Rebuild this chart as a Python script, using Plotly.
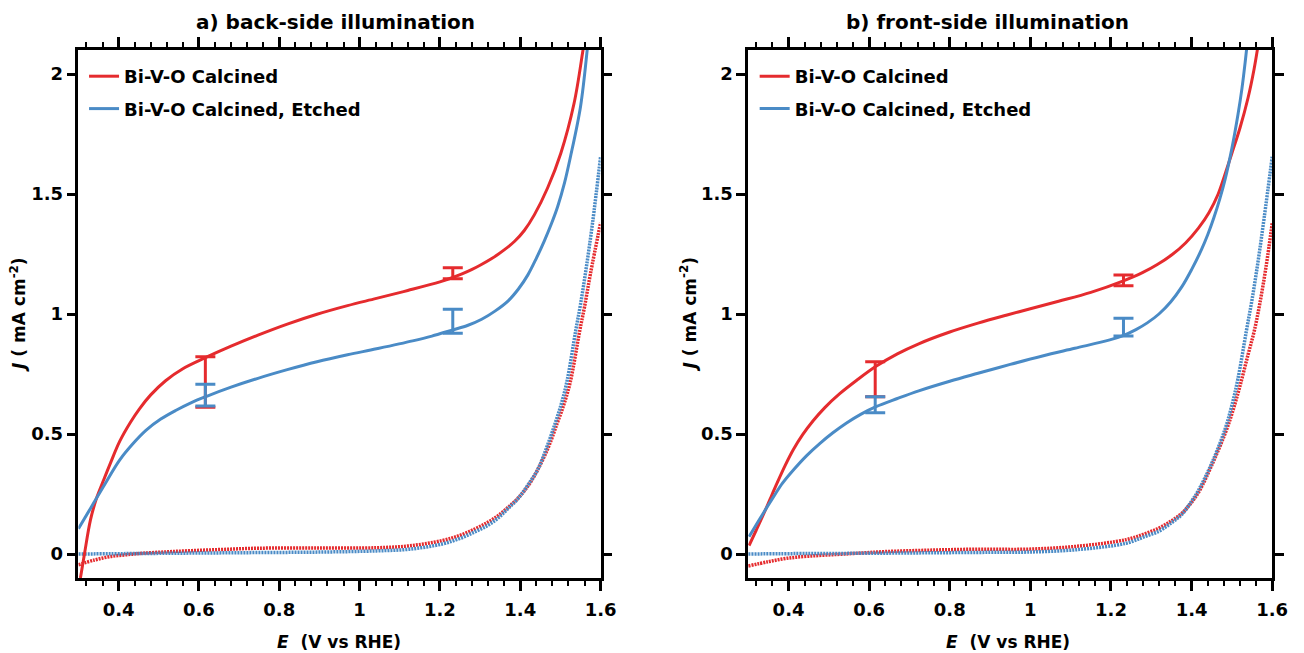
import plotly.graph_objects as go

# ---------------- data ----------------
# Panel a) back-side illumination
a_calc_E = [0.305, 0.315, 0.33, 0.345, 0.362, 0.38, 0.403, 0.43, 0.452, 0.48, 0.517, 0.56, 0.616, 0.68, 0.747,
            0.82, 0.894, 0.97, 1.042, 1.12, 1.2, 1.232, 1.255, 1.28, 1.3, 1.329, 1.36, 1.386, 1.41, 1.435, 1.468,
            1.501, 1.534, 1.556, 1.565]
a_calc_J = [-0.1, 0.0, 0.142, 0.232, 0.305, 0.38, 0.47, 0.55, 0.605, 0.663, 0.722, 0.772, 0.818, 0.866, 0.912,
            0.958, 0.999, 1.035, 1.065, 1.098, 1.134, 1.152, 1.167, 1.186, 1.203, 1.231, 1.267, 1.303, 1.348, 1.413,
            1.525, 1.67, 1.878, 2.098, 2.2]
a_etch_E = [0.3, 0.33, 0.362, 0.403, 0.435, 0.468, 0.505, 0.542, 0.58, 0.616, 0.68, 0.747, 0.82, 0.894, 0.97,
            1.042, 1.132, 1.18, 1.23, 1.27, 1.304, 1.337, 1.37, 1.395, 1.419, 1.44, 1.46, 1.478, 1.493, 1.51, 1.525,
            1.55, 1.566, 1.572]
a_etch_J = [0.105, 0.19, 0.28, 0.392, 0.458, 0.515, 0.562, 0.598, 0.63, 0.655, 0.695, 0.732, 0.768, 0.801, 0.83,
            0.855, 0.888, 0.908, 0.933, 0.953, 0.978, 1.012, 1.055, 1.103, 1.163, 1.232, 1.305, 1.378, 1.447, 1.545,
            1.655, 1.864, 2.09, 2.2]
a_calc_dark_E = [0.3, 0.34, 0.378, 0.42, 0.46, 0.52, 0.583, 0.66, 0.747, 0.894, 1.042, 1.124, 1.206, 1.25, 1.288,
                 1.32, 1.345, 1.37, 1.394, 1.42, 1.443, 1.47, 1.492, 1.51, 1.525, 1.548, 1.56, 1.575, 1.6]
a_calc_dark_J = [-0.045, -0.025, -0.011, -0.003, 0.003, 0.009, 0.014, 0.019, 0.024, 0.025, 0.026, 0.034, 0.056,
                 0.078, 0.105, 0.133, 0.16, 0.195, 0.232, 0.285, 0.35, 0.445, 0.545, 0.63, 0.72, 0.93, 1.03, 1.17,
                 1.38]
a_etch_dark_E = [0.3, 0.45, 0.6, 0.75, 0.9, 1.042, 1.124, 1.206, 1.25, 1.288, 1.32, 1.345, 1.37, 1.394, 1.42,
                 1.443, 1.466, 1.487, 1.503, 1.517, 1.538, 1.55, 1.565, 1.58, 1.6]
a_etch_dark_J = [0.0, 0.002, 0.004, 0.006, 0.008, 0.013, 0.02, 0.042, 0.065, 0.093, 0.12, 0.15, 0.19, 0.23, 0.29,
                 0.35, 0.445, 0.545, 0.63, 0.725, 0.93, 1.04, 1.2, 1.38, 1.655]
a_err_E = [0.616, 1.232]
a_calc_err_J = [0.7165, 1.17]
a_calc_err = [0.1055, 0.023]
a_etch_err_J = [0.662, 0.97]
a_etch_err = [0.045, 0.05]

# Panel b) front-side illumination
b_calc_E = [0.302, 0.32, 0.339, 0.355, 0.372, 0.392, 0.412, 0.435, 0.461, 0.49, 0.527, 0.57, 0.617, 0.67, 0.723,
            0.8, 0.87, 0.94, 1.0, 1.07, 1.15, 1.231, 1.278, 1.315, 1.352, 1.385, 1.417, 1.443, 1.466, 1.481, 1.5,
            1.52, 1.54, 1.555, 1.565]
b_calc_J = [0.035, 0.1, 0.17, 0.232, 0.297, 0.37, 0.435, 0.497, 0.555, 0.61, 0.668, 0.725, 0.782, 0.834, 0.876,
            0.925, 0.962, 0.995, 1.022, 1.053, 1.09, 1.138, 1.172, 1.206, 1.248, 1.296, 1.358, 1.422, 1.5, 1.572,
            1.67, 1.775, 1.9, 2.02, 2.12]
b_etch_E = [0.302, 0.33, 0.363, 0.385, 0.412, 0.445, 0.478, 0.51, 0.543, 0.58, 0.617, 0.67, 0.723, 0.8, 0.87,
            0.95, 1.03, 1.11, 1.197, 1.23, 1.262, 1.29, 1.319, 1.348, 1.376, 1.4, 1.425, 1.44, 1.455, 1.47, 1.483,
            1.5, 1.515, 1.525, 1.533, 1.54]
b_etch_J = [0.072, 0.15, 0.239, 0.295, 0.35, 0.41, 0.461, 0.505, 0.545, 0.583, 0.614, 0.648, 0.68, 0.72, 0.753,
            0.79, 0.825, 0.857, 0.892, 0.91, 0.935, 0.963, 1.0, 1.05, 1.114, 1.185, 1.27, 1.33, 1.4, 1.48, 1.56,
            1.69, 1.83, 1.94, 2.05, 2.16]
b_calc_dark_E = [0.3, 0.35, 0.396, 0.45, 0.519, 0.58, 0.641, 0.75, 0.87, 0.992, 1.115, 1.238, 1.28, 1.319, 1.35,
                 1.376, 1.4, 1.42, 1.45, 1.485, 1.503, 1.52, 1.54, 1.556, 1.57, 1.585, 1.6]
b_calc_dark_J = [-0.05, -0.032, -0.018, -0.009, -0.002, 0.004, 0.01, 0.016, 0.02, 0.02, 0.032, 0.06, 0.082, 0.108,
                 0.138, 0.17, 0.215, 0.265, 0.37, 0.51, 0.6, 0.7, 0.83, 0.933, 1.05, 1.2, 1.378]
b_etch_dark_E = [0.3, 0.45, 0.6, 0.75, 0.9, 0.992, 1.115, 1.238, 1.28, 1.319, 1.35, 1.376, 1.4, 1.417, 1.45, 1.483,
                 1.5, 1.515, 1.536, 1.55, 1.565, 1.58, 1.6]
b_etch_dark_J = [0.0, 0.002, 0.003, 0.005, 0.007, 0.008, 0.018, 0.045, 0.07, 0.095, 0.13, 0.165, 0.22, 0.265,
                 0.378, 0.52, 0.62, 0.73, 0.93, 1.06, 1.22, 1.4, 1.655]
b_err_E = [0.615, 1.231]
b_calc_err_J = [0.728, 1.14]
b_calc_err = [0.073, 0.0228]
b_etch_err_J = [0.622, 0.945]
b_etch_err = [0.033, 0.037]

series_names = ["Bi-V-O Calcined", "Bi-V-O Calcined, Etched"]
panel_titles = ["a) back-side illumination", "b) front-side illumination"]
x_ticks = [0.4, 0.6, 0.8, 1.0, 1.2, 1.4, 1.6]
x_tick_labels = ["0.4", "0.6", "0.8", "1", "1.2", "1.4", "1.6"]
y_ticks = [0, 0.5, 1, 1.5, 2]
y_tick_labels = ["0", "0.5", "1", "1.5", "2"]

# ---------------- style ----------------
RED = "#E52B2E"
BLUE = "#4A8BC6"
FONT = "DejaVu Sans"
OFF = 8                      # default page body margin
W, H = 1304 - OFF, 653 - OFF  # figure size so it fills the window


def px_x(px):
    return (px - OFF) / W


def px_y(py):
    return 1 - (py - OFF) / H


fig = go.Figure()

panels = [
    dict(xa="x", ya="y", leg="legend",
         light=[(a_calc_E, a_calc_J), (a_etch_E, a_etch_J)],
         dark=[(a_calc_dark_E, a_calc_dark_J), (a_etch_dark_E, a_etch_dark_J)],
         err=[(a_err_E, a_calc_err_J, a_calc_err), (a_err_E, a_etch_err_J, a_etch_err)]),
    dict(xa="x2", ya="y2", leg="legend2",
         light=[(b_calc_E, b_calc_J), (b_etch_E, b_etch_J)],
         dark=[(b_calc_dark_E, b_calc_dark_J), (b_etch_dark_E, b_etch_dark_J)],
         err=[(b_err_E, b_calc_err_J, b_calc_err), (b_err_E, b_etch_err_J, b_etch_err)]),
]
colors = [RED, BLUE]

for p in panels:
    for i, (ex, jy) in enumerate(p["dark"]):
        fig.add_trace(go.Scatter(x=ex, y=jy, mode="lines", xaxis=p["xa"], yaxis=p["ya"],
                                 line=dict(color=colors[i], width=3.5, dash="2px,1px", shape="spline",
                                           smoothing=1.0),
                                 showlegend=False, hoverinfo="skip"))
    for i, (ex, jy) in enumerate(p["light"]):
        fig.add_trace(go.Scatter(x=ex, y=jy, mode="lines", xaxis=p["xa"], yaxis=p["ya"],
                                 line=dict(color=colors[i], width=3, shape="spline", smoothing=1.0),
                                 name=series_names[i], legend=p["leg"], legendgroup=f"g{i}",
                                 showlegend=True))
    for i, (ex, jy, er) in enumerate(p["err"]):
        fig.add_trace(go.Scatter(x=ex, y=jy, mode="markers", xaxis=p["xa"], yaxis=p["ya"],
                                 marker=dict(size=1, color=colors[i], opacity=0),
                                 error_y=dict(type="data", array=er, visible=True, color=colors[i],
                                              thickness=3, width=10),
                                 showlegend=False, hoverinfo="skip"))

x_dom = [[px_x(79.3), px_x(608)], [px_x(757.5), px_x(1288)]]
y_dom = [px_y(578), px_y(50)]

axis_common = dict(showline=True, linecolor="black", linewidth=2.5, mirror="allticks",
                   ticks="outside", tickcolor="black", tickwidth=2.5, showgrid=False, zeroline=False,
                   tickfont=dict(family=FONT, size=18, color="black", weight="bold"))

for k, suffix in enumerate(["", "2"]):
    fig.update_layout(**{
        f"xaxis{suffix}": dict(axis_common, domain=x_dom[k], range=[0.3, 1.6], tickvals=x_ticks,
                               ticktext=x_tick_labels, ticklen=10, anchor=f"y{suffix}",
                               ticklabelstandoff=4,
                               minor=dict(dtick=0.04, tick0=0.0, ticks="outside", ticklen=5,
                                          tickwidth=2, tickcolor="black")),
        f"yaxis{suffix}": dict(axis_common, domain=y_dom, range=[-0.1, 2.1], tickvals=y_ticks,
                               ticktext=y_tick_labels, ticklen=9, anchor=f"x{suffix}"),
    })

legend_common = dict(font=dict(family=FONT, size=18, color="black", weight="bold"),
                     bgcolor="rgba(0,0,0,0)", borderwidth=0, xanchor="left", yanchor="top",
                     tracegroupgap=6, traceorder="grouped", itemwidth=30)
fig.update_layout(
    legend=dict(legend_common, x=px_x(85), y=px_y(58)),
    legend2=dict(legend_common, x=px_x(764), y=px_y(58)),
)

annotations = []
title_x = [340, 1000]
xlabel_x = [343, 1020]
ylabel_x = [18, 697]
for k in range(2):
    annotations.append(dict(text=f"<b>{panel_titles[k]}</b>", x=px_x(title_x[k]), y=px_y(22),
                            xref="paper", yref="paper", showarrow=False, xanchor="center", yanchor="middle",
                            font=dict(family=FONT, size=20, color="black")))
    annotations.append(dict(text="<b><i>E</i>  (V vs RHE)</b>", x=px_x(xlabel_x[k]), y=px_y(642),
                            xref="paper", yref="paper", showarrow=False, xanchor="center", yanchor="middle",
                            font=dict(family=FONT, size=17, color="black")))
    annotations.append(dict(text="<b><i>J</i> ( mA cm<sup>-2</sup>)</b>", x=px_x(ylabel_x[k]), y=px_y(314),
                            xref="paper", yref="paper", showarrow=False, xanchor="center", yanchor="middle",
                            textangle=-90, font=dict(family=FONT, size=17, color="black")))

fig.update_layout(width=W, height=H, margin=dict(l=0, r=0, t=0, b=0), plot_bgcolor="white",
                  paper_bgcolor="white", annotations=annotations)

fig.write_html("out.html")
